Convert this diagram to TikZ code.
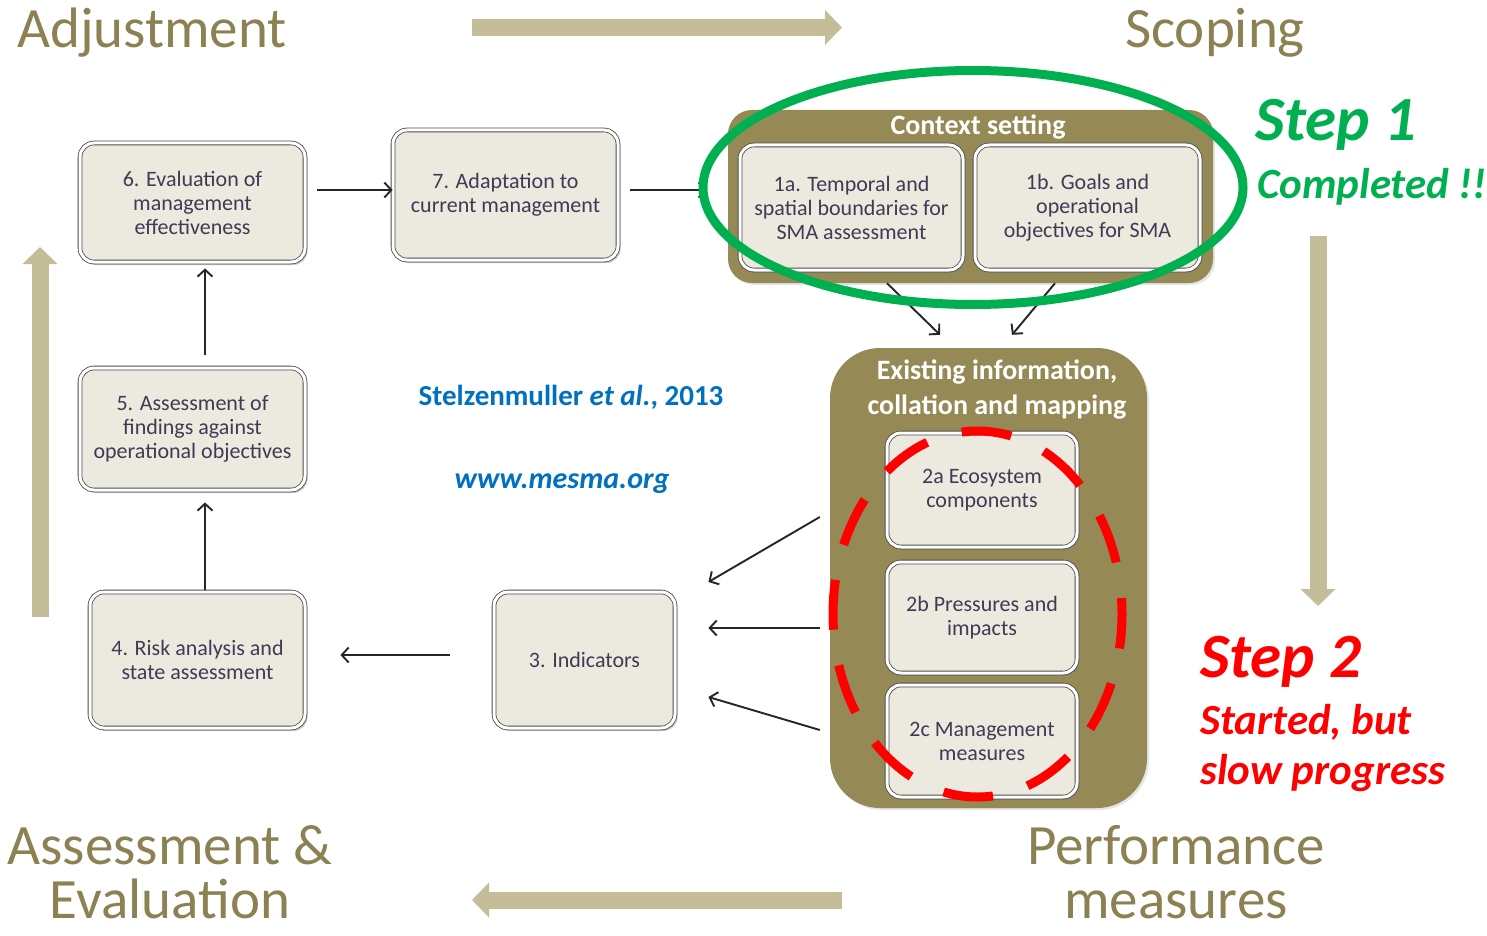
\documentclass[tikz,border=0pt]{standalone}
\usepackage{fontspec}
\setmainfont{Carlito}
\usetikzlibrary{arrows.meta,shadows,calc}

\definecolor{framecol}{HTML}{958A55}
\definecolor{boxfill}{HTML}{ECE9DF}
\definecolor{boxtext}{HTML}{403A55}
\definecolor{cyclecol}{HTML}{C5BD98}
\definecolor{titlecol}{HTML}{8C8152}
\definecolor{stepgreen}{HTML}{00B050}
\definecolor{stepred}{HTML}{FF0000}
\definecolor{citeblue}{HTML}{0070C0}

\tikzset{
  stepbox/.style={rectangle, rounded corners=14pt, fill=boxfill, draw=black!70,
    line width=0.8pt, double=white, double distance=3pt, text=boxtext,
    font=\fontsize{22}{24}\selectfont, align=center, inner sep=0pt,
    drop shadow={shadow xshift=2.5pt, shadow yshift=-3pt, opacity=0.4}},
  groupbox/.style={rectangle, fill=framecol, inner sep=0pt,
    drop shadow={shadow xshift=2pt, shadow yshift=-2pt, opacity=0.2}},
  grouptitle/.style={text=white, font=\bfseries\fontsize{28}{35}\selectfont, align=center},
  flow/.style={draw=black!85, line width=1.9pt, -{Straight Barb[length=7pt,width=15pt]}},
  cyclearrow/.style={draw=cyclecol, line width=17pt, -{Triangle[length=17pt,width=34pt]}},
  bigtitle/.style={text=titlecol, font=\fontsize{57}{63}\selectfont, align=center, inner sep=0pt},
  greenring/.style={draw=stepgreen, line width=9pt},
  redring/.style={draw=stepred, line width=9pt, dash pattern=on 50pt off 36pt, dash phase=34pt},
  stepnote/.style={anchor=base west, inner sep=0pt, font=\bfseries\itshape\fontsize{43}{48}\selectfont},
  stephead/.style={anchor=base west, inner sep=0pt, font=\bfseries\itshape\fontsize{63}{68}\selectfont},
}

\begin{document}
\begin{tikzpicture}[x=1pt,y=-1pt]
\useasboundingbox (0,0) rectangle (1487,936);
\fill[white] (0,0) rectangle (1487,936);

% cycle phases
\node[bigtitle] (adj) at (152,33) {Adjustment};
\node[bigtitle] (scope) at (1215,33) {Scoping};
\node[bigtitle, anchor=base] (assess) at (170,864) {Assessment \&};
\node[bigtitle, anchor=base] (assess2) at (170,918) {Evaluation};
\node[bigtitle, anchor=base] (perf) at (1176,864) {Performance};
\node[bigtitle, anchor=base] (perf2) at (1176,918) {measures};

% cycle arrows
\coordinate (topA) at (472,27.5);  \coordinate (topB) at (842,27.5);
\coordinate (rightA) at (1318,236); \coordinate (rightB) at (1318,606);
\coordinate (botA) at (842,900);   \coordinate (botB) at (472,900);
\coordinate (leftA) at (40,617);   \coordinate (leftB) at (40,247);
\draw[cyclearrow] (topA) -- (topB);
\draw[cyclearrow] (rightA) -- (rightB);
\draw[cyclearrow] (botA) -- (botB);
\draw[cyclearrow] (leftA) -- (leftB);

% grouped steps
\node[groupbox, rounded corners=24pt, minimum width=485pt, minimum height=173pt] (ctx) at (970.5,196.5) {};
\node[grouptitle] (ctxtitle) at (978,127) {Context setting};
\node[groupbox, rounded corners=50pt, minimum width=317pt, minimum height=460pt] (ex) at (988.5,578) {};
\node[grouptitle] (extitle) at (997,390) {Existing information,\\collation and mapping};

% steps
\node[stepbox, minimum width=225pt, minimum height=119pt] (b6) at (192.5,202.5) {6. Evaluation of\\management\\effectiveness};
\node[stepbox, minimum width=225pt, minimum height=130pt] (b7) at (505.5,195) {7. Adaptation to\\current management};
\node[stepbox, minimum width=225pt, minimum height=122pt] (b5) at (192.5,429) {5. Assessment of\\findings against\\operational objectives};
\node[stepbox, minimum width=215pt, minimum height=136pt] (b4) at (197.5,660) {4. Risk analysis and\\state assessment};
\node[stepbox, minimum width=181pt, minimum height=136pt] (b3) at (584.5,660) {3. Indicators};
\node[stepbox, minimum width=223pt, minimum height=125pt] (b1a) at (851.5,207.5) {1a. Temporal and\\spatial boundaries for\\SMA assessment};
\node[stepbox, minimum width=225pt, minimum height=125pt] (b1b) at (1087.5,207.5) {1b. Goals and\\operational\\objectives for SMA};
\node[stepbox, minimum width=190pt, minimum height=114pt] (b2a) at (982,490) {2a Ecosystem\\components};
\node[stepbox, minimum width=190pt, minimum height=111pt] (b2b) at (982,617.5) {2b Pressures and\\impacts};
\node[stepbox, minimum width=190pt, minimum height=112pt] (b2c) at (982,741) {2c Management\\measures};

% flow between steps
\draw[flow] ($(b6.east)+(12,-12.5)$) -- ($(b7.west)+(0,-5)$);
\draw[flow] ($(b7.east)+(12,-5)$) -- ($(ctx.west)+(-21,-6.5)$);
\draw[flow] ($(b5.north)+(12.5,-13)$) -- ($(b6.south)+(12.5,6)$);
\draw[flow] ($(b4.north)+(7.5,-2)$) -- ($(b5.south)+(12.5,12)$);
\draw[flow] ($(b3.west)+(-44,-5)$) -- ($(b4.east)+(35,-5)$);
\draw[flow] ($(ctx.south)+(-83.5,0)$) -- ($(ex.north)+(-48.5,-13)$);
\draw[flow] ($(ctx.south)+(84.5,0)$) -- ($(ex.north)+(23.5,-13)$);
\draw[flow] ($(ex.west)+(-10,-61)$) -- ($(b3.east)+(33,-78)$);
\draw[flow] ($(ex.west)+(-10,50)$) -- ($(b3.east)+(33,-32)$);
\draw[flow] ($(ex.west)+(-10,152)$) -- ($(b3.east)+(33,37)$);

% progress marks
\coordinate (ring1) at (973,187.5);
\coordinate (ring2) at (977.5,614);
\draw[greenring] (ring1) ellipse [x radius=270pt, y radius=117pt];
\draw[redring] (ring2) ellipse [x radius=144.5pt, y radius=183pt];

\node[stephead, text=stepgreen] (s1) at (1255,141) {Step 1};
\node[stepnote, text=stepgreen] (s1b) at (1257,198) {Completed !!};
\node[stephead, text=stepred] (s2) at (1200,677) {Step 2};
\node[stepnote, text=stepred] (s2b) at (1200,734) {Started, but};
\node[stepnote, text=stepred] (s2c) at (1200,784) {slow progress};

% reference
\node[text=citeblue, font=\bfseries\fontsize{29}{32}\selectfont] (cite) at (571,397) {Stelzenmuller \textit{et al.}, 2013};
\node[text=citeblue, font=\bfseries\itshape\fontsize{30}{32}\selectfont] (web) at (562,484) {www.mesma.org};
\end{tikzpicture}
\end{document}
